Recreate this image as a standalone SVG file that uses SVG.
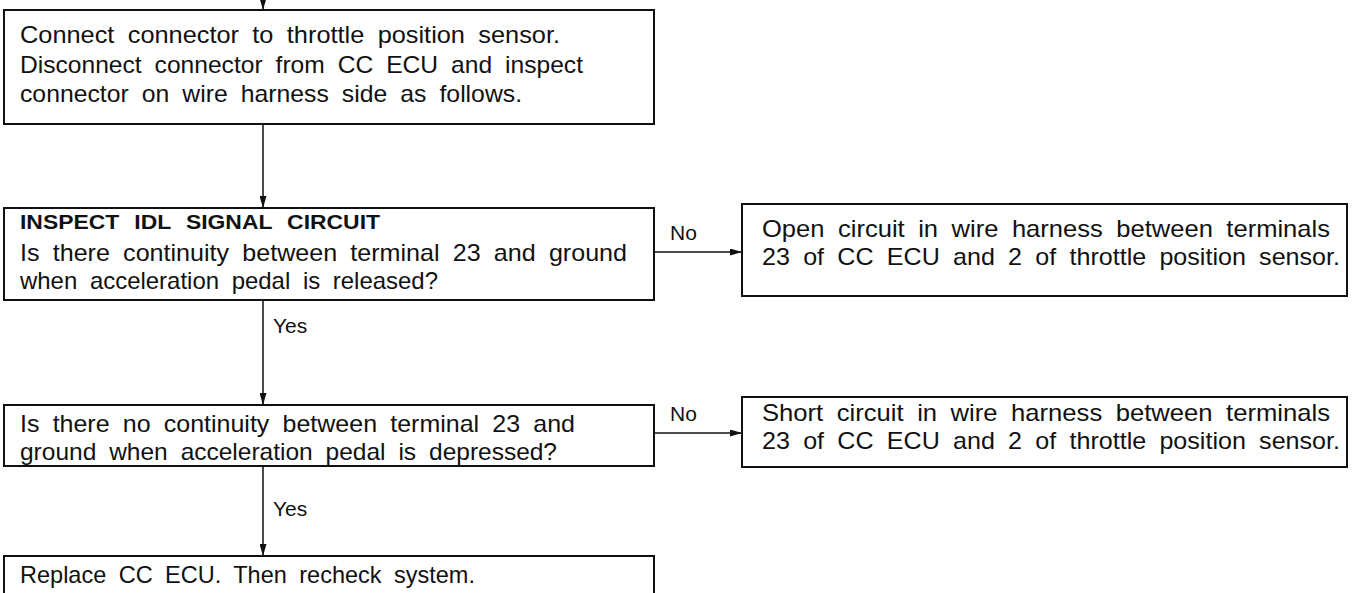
<svg xmlns="http://www.w3.org/2000/svg" width="1354" height="593" viewBox="0 0 1354 593">
<style>
.box{fill:#fff;stroke:#111;stroke-width:2}
.t{font-family:"Liberation Sans",Arial,sans-serif;font-size:24px;fill:#111;word-spacing:6px}
.b{font-family:"Liberation Sans",Arial,sans-serif;font-size:21px;font-weight:bold;fill:#111;word-spacing:8px}
.l{font-family:"Liberation Sans",Arial,sans-serif;font-size:21px;fill:#111}
.c{stroke:#111;stroke-width:1.5;fill:none;marker-end:url(#ah)}
</style>
<defs>
<marker id="ah" markerWidth="12" markerHeight="7" refX="12" refY="3.5" orient="auto" markerUnits="userSpaceOnUse">
<path d="M0,0 L12,3.5 L0,7 z" fill="#111"/>
</marker>
</defs>
<rect width="1354" height="593" fill="#fff"/>
<g id="connectors">
<line class="c" x1="263" y1="0" x2="263" y2="10"/>
<line class="c" x1="263" y1="124" x2="263" y2="208"/>
<line class="c" x1="654" y1="252" x2="742" y2="252"/>
<line class="c" x1="263" y1="300" x2="263" y2="405"/>
<line class="c" x1="654" y1="433" x2="742" y2="433"/>
<line class="c" x1="263" y1="466" x2="263" y2="556"/>
<text class="l" x="670" y="240">No</text>
<text class="l" x="670" y="421">No</text>
<text class="l" x="273" y="333">Yes</text>
<text class="l" x="273" y="516">Yes</text>
</g>
<g id="n1">
<rect class="box" x="4" y="10" width="650" height="114"/>
<text class="t" x="20" y="43" textLength="540" lengthAdjust="spacingAndGlyphs">Connect connector to throttle position sensor.</text>
<text class="t" x="20" y="73" textLength="563" lengthAdjust="spacingAndGlyphs">Disconnect connector from CC ECU and inspect</text>
<text class="t" x="20" y="102" textLength="502" lengthAdjust="spacingAndGlyphs">connector on wire harness side as follows.</text>
</g>
<g id="n2">
<rect class="box" x="4" y="208" width="650" height="92"/>
<text class="b" x="20" y="229" textLength="360" lengthAdjust="spacingAndGlyphs">INSPECT IDL SIGNAL CIRCUIT</text>
<text class="t" x="20" y="261" textLength="607" lengthAdjust="spacingAndGlyphs">Is there continuity between terminal 23 and ground</text>
<text class="t" x="20" y="289" textLength="418" lengthAdjust="spacingAndGlyphs">when acceleration pedal is released?</text>
</g>
<g id="n3">
<rect class="box" x="742" y="204" width="605" height="92"/>
<text class="t" x="762" y="237" textLength="568" lengthAdjust="spacingAndGlyphs">Open circuit in wire harness between terminals</text>
<text class="t" x="762" y="265" textLength="578" lengthAdjust="spacingAndGlyphs">23 of CC ECU and 2 of throttle position sensor.</text>
</g>
<g id="n4">
<rect class="box" x="4" y="405" width="650" height="61"/>
<text class="t" x="20" y="432" textLength="555" lengthAdjust="spacingAndGlyphs">Is there no continuity between terminal 23 and</text>
<text class="t" x="20" y="460" textLength="537" lengthAdjust="spacingAndGlyphs">ground when acceleration pedal is depressed?</text>
</g>
<g id="n5">
<rect class="box" x="742" y="397" width="605" height="70"/>
<text class="t" x="762" y="421" textLength="568" lengthAdjust="spacingAndGlyphs">Short circuit in wire harness between terminals</text>
<text class="t" x="762" y="449" textLength="578" lengthAdjust="spacingAndGlyphs">23 of CC ECU and 2 of throttle position sensor.</text>
</g>
<g id="n6">
<rect class="box" x="4" y="556" width="650" height="50"/>
<text class="t" x="20" y="583" textLength="455" lengthAdjust="spacingAndGlyphs">Replace CC ECU. Then recheck system.</text>
</g>
</svg>
